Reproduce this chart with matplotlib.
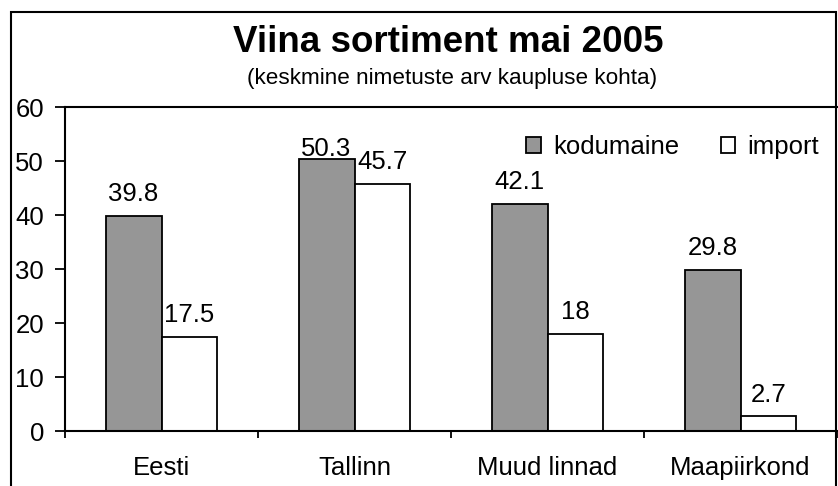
#!/usr/bin/env python3
"""Viina sortiment mai 2005 - grouped bar chart."""

import numpy as np
import matplotlib.pyplot as plt
from matplotlib.patches import Rectangle

categories = ["Eesti", "Tallinn", "Muud linnad", "Maapiirkond"]
kodumaine = [39.8, 50.3, 42.1, 29.8]
imported = [17.5, 45.7, 18, 2.7]
value_labels_kodu = ["39.8", "50.3", "42.1", "29.8"]
value_labels_import = ["17.5", "45.7", "18", "2.7"]
y_ticks = [0, 10, 20, 30, 40, 50, 60]

plt.rcParams["font.family"] = ["Liberation Sans", "DejaVu Sans"]
FS = 18.5

fig = plt.figure(figsize=(8.38, 4.86), dpi=100)
ax = fig.add_axes([65 / 838, 1 - 431 / 486, (837 - 65) / 838, (431 - 107) / 486])

x = np.arange(len(categories))
width = 0.29
gray = "#969696"

b1 = ax.bar(x - width / 2, kodumaine, width, color=gray, edgecolor="black",
            linewidth=1.3, label="kodumaine")
b2 = ax.bar(x + width / 2, imported, width, color="white", edgecolor="black",
            linewidth=1.3, label="import")

for bars, labels in [(b1, value_labels_kodu), (b2, value_labels_import)]:
    for rect, txt in zip(bars, labels):
        h = rect.get_height()
        # labels near the top get squeezed down onto the bar (as in Excel)
        dy = 7 if h < 48 else -1
        ax.annotate(txt, (rect.get_x() + rect.get_width() / 2, h),
                    xytext=(0, dy), textcoords="offset points",
                    ha="center", va="bottom", fontsize=FS)

ax.set_xlim(-0.5, len(categories) - 0.5)
ax.set_ylim(0, 60)
ax.set_yticks(y_ticks)
ax.set_yticklabels([str(v) for v in y_ticks], fontsize=FS)
ax.tick_params(axis="y", direction="out", length=7, width=1.3, pad=8)

# category labels centred, tick marks at category boundaries
ax.set_xticks(np.arange(-0.5, len(categories), 1.0))
ax.set_xticklabels([])
ax.tick_params(axis="x", direction="out", length=5, width=1.3)
ax.set_xticks(x, minor=True)
ax.set_xticklabels(categories, minor=True, fontsize=FS)
ax.tick_params(axis="x", which="minor", length=0, pad=18)

for side in ["left", "bottom", "top"]:
    ax.spines[side].set_linewidth(1.5)
ax.spines["right"].set_visible(False)

leg = ax.legend(loc="center right", bbox_to_anchor=(0.977, 0.877), ncol=2,
                frameon=False, fontsize=FS, handlelength=0.55,
                handleheight=0.55, handletextpad=0.5, columnspacing=1.6,
                borderpad=0, borderaxespad=0)

fig.text(448 / 838, 1 - 42 / 486, "Viina sortiment mai 2005", ha="center",
         va="center", fontsize=26.5, fontweight="bold")
fig.text(452 / 838, 1 - 78 / 486, "(keskmine nimetuste arv kaupluse kohta)",
         ha="center", va="center", fontsize=16.2)

# outer chart frame
fig.patches.append(Rectangle((11 / 838, -0.05), (836 - 11) / 838, 1 - 12 / 486 + 0.05,
                             transform=fig.transFigure, fill=False,
                             edgecolor="black", linewidth=1.5))

fig.savefig("out.png", dpi=100)
